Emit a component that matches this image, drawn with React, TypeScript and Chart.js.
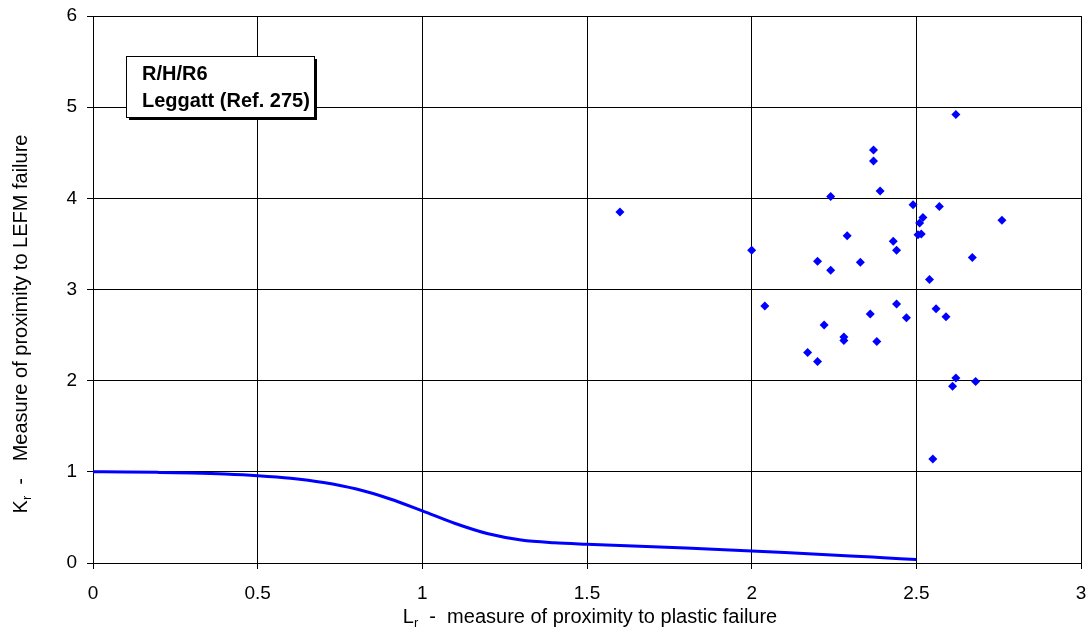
import React, { useEffect, useRef } from "react";
import { Chart, registerables } from "chart.js";

Chart.register(...registerables);

// Failure assessment curve (Lr, Kr)
const curveLr = [0, 0.1, 0.2, 0.3, 0.4, 0.5, 0.6, 0.7, 0.8, 0.9, 1.0, 1.1, 1.2, 1.3, 1.4, 1.5, 1.6, 1.7, 1.8, 1.9, 2.0, 2.1, 2.2, 2.3, 2.4, 2.5];
const curveKr = [1.0, 0.999, 0.994, 0.987, 0.976, 0.958, 0.93, 0.883, 0.811, 0.705, 0.572, 0.433, 0.32, 0.252, 0.222, 0.206, 0.193, 0.179, 0.164, 0.148, 0.132, 0.115, 0.097, 0.078, 0.058, 0.038];

// Assessment points (Leggatt, Ref. 275)
const pointsLr = [1.60, 2.00, 2.04, 2.17, 2.20, 2.20, 2.22, 2.24, 2.24, 2.28, 2.28, 2.29, 2.33, 2.36, 2.37, 2.37, 2.38, 2.39, 2.43, 2.44, 2.44, 2.47, 2.49, 2.51, 2.52, 2.505, 2.515, 2.54, 2.55, 2.56, 2.57, 2.59, 2.61, 2.62, 2.62, 2.67, 2.68, 2.76];
const pointsKr = [3.85, 3.43, 2.82, 2.31, 2.21, 3.31, 2.61, 3.21, 4.02, 2.48, 2.44, 3.59, 3.30, 2.73, 4.53, 4.41, 2.43, 4.08, 3.53, 2.84, 3.43, 2.69, 3.93, 3.73, 3.79, 3.60, 3.61, 3.11, 1.14, 2.79, 3.91, 2.70, 1.94, 2.03, 4.92, 3.35, 1.99, 3.76];

const xMin = 0;
const xMax = 3;
const xStep = 0.5;
const yMin = 0;
const yMax = 6;
const yStep = 1;

const boxLines = ["R/H/R6", "Leggatt (Ref. 275)"];
const xTitleMain = "L";
const xTitleSub = "r";
const xTitleRest = "  -  measure of proximity to plastic failure";
const yTitleMain = "K";
const yTitleSub = "r";
const yTitleRest = "  -   Measure of proximity to LEFM failure";

const FONT = "'Liberation Sans', Arial, sans-serif";
const TITLE_SIZE = 20;
const TICK_SIZE = 19;

function drawSubTitle(ctx: CanvasRenderingContext2D, main: string, sub: string, rest: string, cx: number, cy: number, rotate: boolean) {
  ctx.save();
  ctx.fillStyle = "#000";
  ctx.textBaseline = "alphabetic";
  ctx.textAlign = "left";
  const big = `${TITLE_SIZE}px ${FONT}`;
  const small = `13px ${FONT}`;
  ctx.font = big;
  const w1 = ctx.measureText(main).width;
  const w3 = ctx.measureText(rest).width;
  ctx.font = small;
  const w2 = ctx.measureText(sub).width;
  const total = w1 + w2 + w3;
  ctx.translate(cx, cy);
  if (rotate) ctx.rotate(-Math.PI / 2);
  let x = -total / 2;
  ctx.font = big;
  ctx.fillText(main, x, 0);
  x += w1;
  ctx.font = small;
  ctx.fillText(sub, x, 4);
  x += w2;
  ctx.font = big;
  ctx.fillText(rest, x, 0);
  ctx.restore();
}

const overlayPlugin = {
  id: "overlay",
  afterDraw(chart: any) {
    const ctx: CanvasRenderingContext2D = chart.ctx;
    // axis titles
    drawSubTitle(ctx, xTitleMain, xTitleSub, xTitleRest, 590, 623, false);
    drawSubTitle(ctx, yTitleMain, yTitleSub, yTitleRest, 27, 324, true);
    // annotation box
    const bx = 126, by = 56, bw = 188, bh = 61;
    ctx.save();
    ctx.fillStyle = "#000";
    ctx.fillRect(bx + 3, by + 3, bw, bh);
    ctx.fillStyle = "#fff";
    ctx.fillRect(bx, by, bw, bh);
    ctx.strokeStyle = "#000";
    ctx.lineWidth = 1;
    ctx.strokeRect(bx + 0.5, by + 0.5, bw, bh);
    ctx.fillStyle = "#000";
    ctx.font = `bold ${TITLE_SIZE}px ${FONT}`;
    ctx.textBaseline = "alphabetic";
    ctx.textAlign = "left";
    ctx.fillText(boxLines[0], 142, 80);
    ctx.fillText(boxLines[1], 142, 107);
    ctx.restore();
  },
};

export default function App() {
  const canvasRef = useRef<HTMLCanvasElement | null>(null);

  useEffect(() => {
    if (!canvasRef.current) return;
    const curve = curveLr.map((x, i) => ({ x, y: curveKr[i] }));
    const pts = pointsLr.map((x, i) => ({ x, y: pointsKr[i] }));
    const chart = new Chart(canvasRef.current, {
      type: "scatter",
      data: {
        datasets: [
          {
            label: "curve",
            data: curve,
            showLine: true,
            borderColor: "#0000FF",
            borderWidth: 3,
            pointRadius: 0,
            cubicInterpolationMode: "monotone",
            fill: false,
          },
          {
            label: "points",
            data: pts,
            pointStyle: "rectRot",
            pointRadius: 4.5,
            backgroundColor: "#0000FF",
            borderColor: "#0000FF",
            borderWidth: 0,
            showLine: false,
          },
        ],
      },
      options: {
        responsive: false,
        animation: false,
        layout: { padding: { top: 16, right: 5, left: 0, bottom: 0 } },
        plugins: {
          legend: { display: false },
          tooltip: { enabled: false },
          title: { display: false },
        },
        scales: {
          x: {
            type: "linear",
            min: xMin,
            max: xMax,
            afterFit: (scale: any) => {
              scale.height = 67;
              scale.paddingLeft = 0;
              scale.paddingRight = 0;
            },
            ticks: {
              stepSize: xStep,
              color: "#000",
              padding: 13,
              maxRotation: 0,
              font: { family: FONT, size: TICK_SIZE },
              callback: (v: any) => String(v),
            },
            grid: { color: "#000", lineWidth: 1, tickLength: 6, drawTicks: true },
            border: { color: "#000", width: 1 },
          },
          y: {
            type: "linear",
            min: yMin,
            max: yMax,
            afterFit: (scale: any) => {
              scale.width = 93;
              scale.paddingTop = 0;
              scale.paddingBottom = 0;
            },
            ticks: {
              stepSize: yStep,
              color: "#000",
              padding: 10,
              font: { family: FONT, size: TICK_SIZE },
              callback: (v: any) => String(v),
            },
            grid: { color: "#000", lineWidth: 1, tickLength: 6, drawTicks: true },
            border: { color: "#000", width: 1 },
          },
        },
      },
      plugins: [overlayPlugin],
    } as any);
    return () => chart.destroy();
  }, []);

  return (
    <div style={{ position: "fixed", left: 0, top: 0, width: 1086, height: 630, background: "#fff" }}>
      <canvas ref={canvasRef} width={1086} height={630} style={{ display: "block", width: 1086, height: 630 }} />
    </div>
  );
}
